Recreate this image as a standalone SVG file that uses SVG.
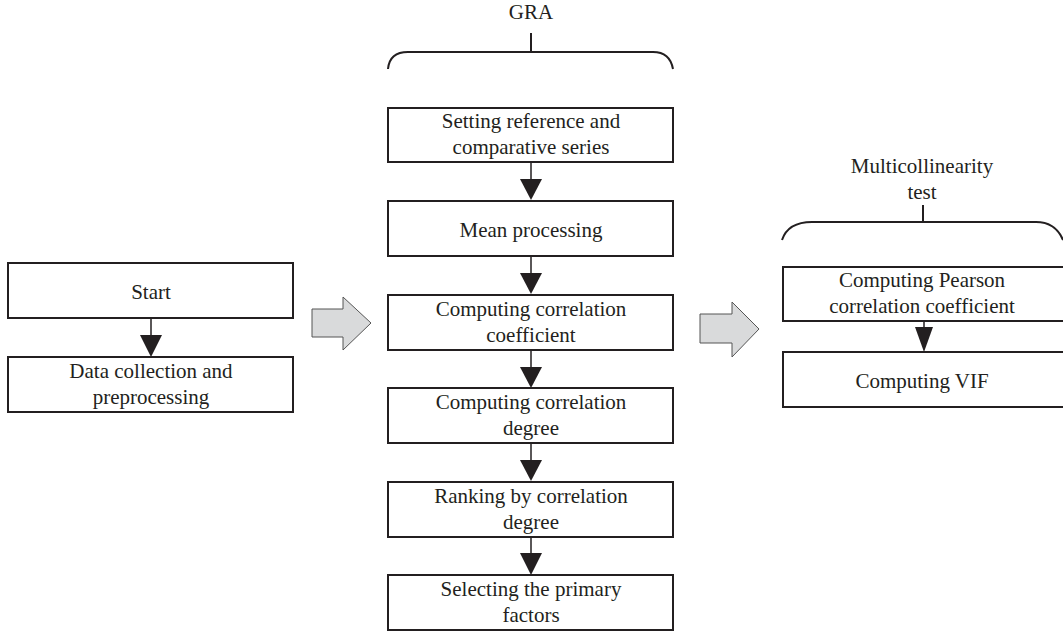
<svg xmlns="http://www.w3.org/2000/svg" width="1063" height="635" viewBox="0 0 1063 635">
<style>
.box{fill:#fff;stroke:#231f20;stroke-width:2}
.t{font-family:"Liberation Serif","Times New Roman",serif;font-size:21px;fill:#231f20;text-anchor:middle}
.ln{stroke:#231f20;stroke-width:1.5;fill:none}
.br{stroke:#231f20;stroke-width:2;fill:none}
.tri{fill:#231f20}
.big{fill:#d9dadb;stroke:#555;stroke-width:1}
</style>
<rect width="1063" height="635" fill="#fff"/>
<g id="connectors">
<g id="a-start">
<line class="ln" x1="151" y1="318" x2="151" y2="336"/><polygon class="tri" points="140,335 162,335 151,357"/></g>
<line class="ln" x1="531" y1="162" x2="531" y2="180"/><polygon class="tri" points="520,179 542,179 531,200"/>
<line class="ln" x1="531" y1="256" x2="531" y2="274"/><polygon class="tri" points="520,273 542,273 531,294"/>
<line class="ln" x1="531" y1="350" x2="531" y2="368"/><polygon class="tri" points="520,367 542,367 531,388"/>
<line class="ln" x1="531" y1="443" x2="531" y2="461"/><polygon class="tri" points="520,460 542,460 531,481"/>
<line class="ln" x1="531" y1="537" x2="531" y2="554"/><polygon class="tri" points="520,553 542,553 531,575"/>
<line class="ln" x1="924" y1="321" x2="924" y2="328"/><polygon class="tri" points="915,327 933,327 924,352"/>
<polygon class="big" points="312,309 343,309 343,297 371,323 343,350 343,337 312,337"/>
<polygon class="big" points="700,314 732,314 732,302 759,329 732,357 732,343 700,343"/>
</g>
<g id="gra-brace">
<text class="t" x="531" y="19">GRA</text>
<line class="br" x1="531" y1="33" x2="531" y2="52"/>
<path class="br" d="M388,69 C389,58 395,52 408,52 L653,52 C665,52 671,58 673,69"/>
</g>
<g id="multi-brace">
<text class="t" x="922" y="173">Multicollinearity</text>
<text class="t" x="922" y="199">test</text>
<line class="br" x1="923" y1="205" x2="923" y2="222"/>
<path class="br" d="M782,240 C786,228 795,222 812,222 L1036,222 C1050,222 1058,228 1063,240"/>
</g>
<g id="n-start"><rect class="box" x="8" y="263" width="285" height="55"/><text class="t" x="151" y="299">Start</text></g>
<g id="n-data"><rect class="box" x="8" y="357" width="285" height="55"/><text class="t" x="151" y="378">Data collection and</text><text class="t" x="151" y="404">preprocessing</text></g>
<g id="n-setting"><rect class="box" x="388" y="108" width="285" height="54"/><text class="t" x="531" y="128">Setting reference and</text><text class="t" x="531" y="154">comparative series</text></g>
<g id="n-mean"><rect class="box" x="388" y="201" width="285" height="55"/><text class="t" x="531" y="237">Mean processing</text></g>
<g id="n-coef"><rect class="box" x="388" y="295" width="285" height="55"/><text class="t" x="531" y="316">Computing correlation</text><text class="t" x="531" y="342">coefficient</text></g>
<g id="n-degree"><rect class="box" x="388" y="388" width="285" height="55"/><text class="t" x="531" y="409">Computing correlation</text><text class="t" x="531" y="435">degree</text></g>
<g id="n-rank"><rect class="box" x="388" y="482" width="285" height="55"/><text class="t" x="531" y="503">Ranking by correlation</text><text class="t" x="531" y="529">degree</text></g>
<g id="n-select"><rect class="box" x="388" y="575" width="285" height="55"/><text class="t" x="531" y="596">Selecting the primary</text><text class="t" x="531" y="622">factors</text></g>
<g id="n-pearson"><rect class="box" x="783" y="267" width="285" height="54"/><text class="t" x="922" y="287">Computing Pearson</text><text class="t" x="922" y="313">correlation coefficient</text></g>
<g id="n-vif"><rect class="box" x="783" y="352" width="285" height="55"/><text class="t" x="922" y="388">Computing VIF</text></g>
</svg>
